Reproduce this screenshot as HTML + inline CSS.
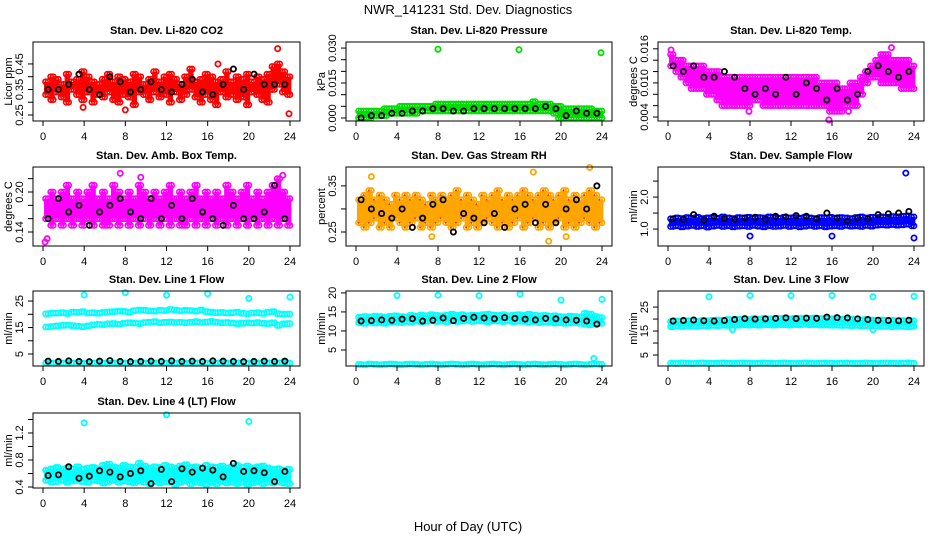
<!DOCTYPE html>
<html><head><meta charset="utf-8"><title>NWR_141231 Std. Dev. Diagnostics</title>
<style>
html,body{margin:0;padding:0;background:#fff;}
svg{display:block;font-family:"Liberation Sans",sans-serif;}
</style></head>
<body>
<svg id="chart" width="936" height="540" viewBox="0 0 936 540" xmlns="http://www.w3.org/2000/svg">
<rect x="0" y="0" width="936" height="540" fill="#fff"/>
<text x="468" y="14" text-anchor="middle" font-size="13">NWR_141231  Std. Dev. Diagnostics</text>
<text x="468" y="531" text-anchor="middle" font-size="13">Hour of Day (UTC)</text>
</svg>
<script>
// ---------- data ----------
const xTicks = [0,4,8,12,16,20,24];
// CO2
const co2Hi = [0.38,0.40,0.39,0.37,0.41,0.38,0.39,0.42,0.40,0.38,0.37,0.39,0.41,0.38,0.40,0.39,0.38,0.41,0.40,0.37,0.39,0.42,0.38,0.40,0.41,0.39,0.37,0.40,0.43,0.38,0.39,0.41,0.40,0.38,0.39,0.42,0.38,0.40,0.39,0.41,0.38,0.40,0.39,0.41,0.44,0.45,0.42,0.40];
const co2Lo = [0.33,0.31,0.34,0.32,0.30,0.35,0.33,0.31,0.34,0.30,0.33,0.32,0.34,0.31,0.30,0.33,0.32,0.29,0.34,0.33,0.31,0.34,0.32,0.33,0.30,0.34,0.31,0.33,0.35,0.32,0.30,0.33,0.31,0.29,0.34,0.32,0.33,0.31,0.32,0.29,0.34,0.33,0.31,0.30,0.35,0.37,0.34,0.33];
const co2Black = [0.35,0.35,0.37,0.41,0.35,0.33,0.40,0.38,0.34,0.35,0.38,0.35,0.34,0.37,0.39,0.34,0.33,0.37,0.43,0.35,0.41,0.37,0.37,0.37];
const co2OutT = [3.9,8,17,22.8,23.9];
const co2OutV = [0.28,0.27,0.45,0.51,0.255];
// Pressure
const presHi = [0.003,0.003,0.003,0.003,0.003,0.004,0.004,0.004,0.005,0.005,0.005,0.005,0.005,0.005,0.005,0.006,0.006,0.006,0.006,0.006,0.006,0.006,0.006,0.006,0.006,0.006,0.006,0.006,0.006,0.006,0.006,0.006,0.006,0.006,0.007,0.006,0.006,0.006,0.005,0.005,0.004,0.004,0.004,0.004,0.004,0.004,0.003,0.003];
const presLo = [0.000,0.000,0.000,0.001,0.001,0.001,0.002,0.002,0.002,0.002,0.002,0.002,0.003,0.003,0.003,0.003,0.003,0.003,0.003,0.003,0.003,0.003,0.003,0.003,0.003,0.003,0.003,0.003,0.003,0.003,0.003,0.003,0.003,0.003,0.003,0.003,0.003,0.003,0.002,0.000,0.000,0.000,0.000,0.000,0.000,0.000,0.000,0.000];
const presBlack = [0.000,0.001,0.001,0.002,0.002,0.003,0.003,0.004,0.004,0.003,0.003,0.004,0.004,0.004,0.004,0.004,0.004,0.004,0.005,0.004,0.001,0.003,0.002,0.002];
const presOutT = [8,15.9,23.9];
const presOutV = [0.0295,0.0293,0.028];
// Li-820 temp
const tempHi = [0.015,0.014,0.014,0.013,0.013,0.013,0.013,0.012,0.012,0.012,0.011,0.011,0.011,0.011,0.011,0.011,0.011,0.011,0.011,0.011,0.011,0.011,0.011,0.011,0.011,0.011,0.011,0.011,0.011,0.010,0.010,0.010,0.010,0.009,0.009,0.010,0.010,0.011,0.012,0.013,0.014,0.015,0.015,0.014,0.014,0.014,0.014,0.013];
const tempLo = [0.013,0.012,0.011,0.010,0.009,0.009,0.009,0.008,0.008,0.007,0.006,0.006,0.006,0.006,0.006,0.006,0.007,0.007,0.006,0.006,0.006,0.006,0.006,0.006,0.006,0.006,0.006,0.006,0.006,0.006,0.006,0.005,0.005,0.005,0.006,0.006,0.006,0.008,0.010,0.011,0.011,0.010,0.010,0.010,0.010,0.009,0.009,0.009];
const tempBlack = [0.013,0.012,0.013,0.011,0.011,0.012,0.011,0.009,0.008,0.009,0.008,0.011,0.008,0.010,0.009,0.007,0.009,0.007,0.008,0.012,0.013,0.012,0.011,0.012];
const tempOutT = [0.3,15.7,21.8,7.9,17.6];
const tempOutV = [0.0158,0.0035,0.0162,0.005,0.005];
// Amb box temp
const ambHi = [0.19,0.20,0.19,0.20,0.21,0.19,0.20,0.19,0.20,0.21,0.19,0.20,0.19,0.21,0.20,0.19,0.20,0.19,0.21,0.20,0.19,0.20,0.19,0.20,0.21,0.19,0.20,0.19,0.20,0.21,0.19,0.20,0.19,0.20,0.19,0.21,0.20,0.19,0.20,0.21,0.19,0.20,0.19,0.20,0.21,0.22,0.20,0.19];
const ambLo = [0.16,0.15,0.16,0.15,0.16,0.15,0.16,0.15,0.16,0.15,0.16,0.15,0.15,0.16,0.15,0.16,0.15,0.16,0.15,0.16,0.15,0.16,0.15,0.16,0.15,0.16,0.15,0.15,0.16,0.15,0.16,0.15,0.16,0.15,0.16,0.15,0.16,0.15,0.16,0.15,0.16,0.15,0.16,0.15,0.16,0.15,0.16,0.15];
const ambBlack = [0.16,0.19,0.17,0.18,0.15,0.17,0.18,0.19,0.17,0.16,0.19,0.16,0.18,0.16,0.19,0.17,0.16,0.15,0.18,0.16,0.16,0.17,0.21,0.16];
const ambOutT = [0.2,0.4,7.5,9.5,23.3];
const ambOutV = [0.125,0.13,0.228,0.222,0.225];
// Gas stream RH
const rhHi = [0.32,0.33,0.34,0.32,0.33,0.32,0.31,0.33,0.32,0.33,0.32,0.33,0.32,0.31,0.33,0.32,0.33,0.32,0.33,0.34,0.32,0.33,0.32,0.31,0.33,0.32,0.33,0.34,0.32,0.33,0.32,0.33,0.34,0.33,0.32,0.33,0.34,0.33,0.32,0.33,0.34,0.32,0.33,0.32,0.33,0.34,0.33,0.32];
const rhLo = [0.27,0.26,0.27,0.28,0.26,0.27,0.26,0.28,0.27,0.26,0.27,0.28,0.26,0.27,0.26,0.27,0.28,0.27,0.26,0.27,0.28,0.26,0.27,0.26,0.27,0.28,0.27,0.26,0.27,0.26,0.27,0.28,0.26,0.27,0.28,0.26,0.27,0.26,0.27,0.28,0.26,0.27,0.26,0.27,0.28,0.27,0.26,0.27];
const rhBlack = [0.32,0.30,0.29,0.28,0.30,0.26,0.28,0.31,0.32,0.25,0.29,0.28,0.27,0.29,0.26,0.30,0.31,0.27,0.31,0.27,0.30,0.32,0.30,0.35];
const rhOutT = [1.5,7.4,17.3,22.8,20.5,18.8];
const rhOutV = [0.37,0.24,0.38,0.39,0.24,0.23];
// Sample flow
const flowHi = [1.32,1.35,1.33,1.36,1.34,1.37,1.33,1.35,1.36,1.34,1.38,1.35,1.33,1.36,1.35,1.37,1.34,1.36,1.35,1.38,1.36,1.34,1.37,1.35,1.36,1.34,1.37,1.35,1.33,1.36,1.35,1.37,1.34,1.36,1.35,1.33,1.36,1.38,1.35,1.37,1.36,1.38,1.37,1.39,1.38,1.40,1.41,1.38];
const flowLo = [1.08,1.10,1.07,1.09,1.11,1.08,1.10,1.06,1.09,1.11,1.08,1.10,1.07,1.09,1.10,1.08,1.11,1.09,1.07,1.10,1.08,1.09,1.11,1.08,1.10,1.07,1.09,1.11,1.08,1.10,1.07,1.09,1.10,1.08,1.11,1.09,1.10,1.08,1.11,1.09,1.12,1.13,1.12,1.14,1.12,1.13,1.15,1.10];
const flowBlack = [1.32,1.30,1.45,1.28,1.40,1.33,1.30,1.35,1.37,1.30,1.40,1.38,1.42,1.40,1.32,1.50,1.35,1.25,1.35,1.32,1.45,1.48,1.50,1.55];
const flowOutT = [8,16,23.2,24];
const flowOutV = [0.78,0.78,2.75,0.72];
// Line 1 flow
const l1Up = [20.2,20.4,20.5,20.6,20.3,20.8,20.7,21.0,20.5,20.6,20.4,20.7,20.9,21.0,21.2,21.1,20.8,21.4,21.6,21.5,21.3,21.2,21.5,21.4,21.8,21.6,21.3,21.5,21.4,21.2,21.6,21.0,20.8,20.6,20.7,20.5,20.6,20.8,20.4,20.2,20.5,20.6,20.3,20.8,21.0,20.2,20.0,20.1];
const l1Mid = [15.2,15.4,15.6,15.8,15.9,15.7,15.5,15.3,15.6,16.0,16.2,16.1,16.4,16.5,16.3,16.6,16.8,16.7,16.5,16.9,17.0,17.2,16.8,17.0,17.1,16.9,17.0,16.8,17.0,17.2,16.9,17.1,17.3,17.0,16.8,16.9,16.7,16.5,16.6,16.8,16.7,16.9,16.6,16.5,16.8,15.8,16.4,16.5];
const l1Low = [1.6,1.5,1.7,1.6,1.5,1.6,1.7,1.6,1.5,1.6,1.7,1.6,1.5,1.6,1.7,1.6,1.5,1.6,1.7,1.6,1.5,1.6,1.7,1.6,1.5,1.6,1.7,1.6,1.5,1.6,1.7,1.6,1.5,1.6,1.7,1.6,1.5,1.6,1.7,1.6,1.5,1.6,1.7,1.6,1.5,1.6,1.7,1.6];
const l1Black = [2.3,2.2,2.4,2.2,2.1,2.3,2.5,2.2,2.1,2.2,2.3,2.2,2.4,2.2,2.3,2.2,2.4,2.3,2.2,2.1,2.2,2.3,2.2,2.3];
const l1OutT = [4,8,12,16,20,24];
const l1OutV = [27.3,28.2,27.2,27.8,26.0,26.5];
// Line 2 flow
const l2Hi = [13.6,13.8,13.7,13.9,13.8,13.6,13.9,14.0,13.8,13.7,14.1,13.9,14.2,14.0,14.3,14.1,14.0,14.2,14.4,14.1,14.3,14.0,14.2,14.1,14.3,14.4,14.2,14.1,14.3,14.0,14.2,14.3,14.1,14.4,14.2,14.0,14.1,13.9,14.0,13.8,13.7,13.9,13.8,13.7,14.6,14.4,13.8,13.5];
const l2Lo = [12.2,12.0,12.3,12.1,12.2,12.0,12.3,12.4,12.2,12.5,12.3,12.6,12.4,12.5,12.7,12.5,12.6,12.4,12.7,12.5,12.6,12.8,12.5,12.7,12.6,12.4,12.7,12.6,12.5,12.7,12.4,12.6,12.5,12.3,12.5,12.2,12.4,12.3,12.1,12.2,12.0,12.1,12.2,12.0,11.8,11.6,11.9,12.0];
const l2Low = [1.2,1.1,1.3,1.2,1.1,1.2,1.3,1.2,1.1,1.2,1.3,1.2,1.1,1.2,1.3,1.2,1.1,1.2,1.3,1.2,1.1,1.2,1.3,1.2,1.1,1.2,1.3,1.2,1.1,1.2,1.3,1.2,1.1,1.2,1.3,1.2,1.1,1.2,1.3,1.2,1.1,1.2,1.3,1.2,1.1,1.2,1.3,1.2];
const l2Black = [12.6,12.7,12.9,12.8,13.1,13.2,12.6,12.8,13.4,12.7,13.3,13.6,13.4,13.2,13.5,13.3,13.1,12.9,13.3,13.2,12.9,12.8,12.6,11.8];
const l2OutT = [4,8,12,16,20,24,23.2];
const l2OutV = [19.3,19.4,19.3,19.7,18.1,18.3,2.8];
// Line 3 flow
const l3Hi = [19.0,19.2,19.1,19.3,19.2,19.0,19.4,19.3,19.5,19.6,19.4,19.8,19.7,19.9,20.0,19.8,20.1,20.0,20.2,20.1,20.0,20.3,20.2,20.1,20.3,20.4,20.2,20.3,20.5,20.2,20.3,20.1,20.2,20.0,19.9,20.0,19.8,19.7,19.8,19.6,19.5,19.6,19.4,19.5,19.3,19.4,19.2,19.3];
const l3Lo = [16.8,17.0,16.9,17.1,17.0,16.9,17.2,17.1,17.3,17.2,17.4,17.3,17.5,17.4,17.6,17.5,17.6,17.4,17.7,17.6,17.5,17.7,17.6,17.5,17.7,17.6,17.8,17.6,17.7,17.5,17.6,17.4,17.5,17.3,17.4,17.2,17.3,17.1,17.2,17.0,17.1,16.9,17.0,16.8,17.0,16.9,16.8,16.9];
const l3Low = [1.6,1.5,1.7,1.6,1.5,1.6,1.7,1.6,1.5,1.6,1.7,1.6,1.5,1.6,1.7,1.6,1.5,1.6,1.7,1.6,1.5,1.6,1.7,1.6,1.5,1.6,1.7,1.6,1.5,1.6,1.7,1.6,1.5,1.6,1.7,1.6,1.5,1.6,1.7,1.6,1.5,1.6,1.7,1.6,1.5,1.6,1.7,1.6];
const l3Black = [19.2,19.4,19.6,19.3,19.2,19.4,19.8,20.2,20.0,20.1,20.3,20.5,20.2,20.4,20.3,20.8,20.6,20.5,20.1,19.8,19.5,19.4,19.3,19.5];
const l3OutT = [4,8,12,16,20,24,6.3,20];
const l3OutV = [29.3,29.8,29.8,29.8,29.3,29.5,15.6,15.6];
// Line 4 (LT) flow
const l4Hi = [0.65,0.67,0.69,0.66,0.68,0.67,0.70,0.66,0.68,0.69,0.67,0.72,0.74,0.70,0.68,0.72,0.70,0.69,0.75,0.71,0.68,0.70,0.69,0.72,0.70,0.68,0.71,0.73,0.69,0.70,0.68,0.72,0.70,0.69,0.71,0.68,0.70,0.72,0.69,0.71,0.68,0.70,0.71,0.68,0.66,0.67,0.65,0.66];
const l4Lo = [0.50,0.47,0.48,0.50,0.47,0.49,0.50,0.48,0.47,0.50,0.49,0.46,0.48,0.50,0.47,0.49,0.48,0.46,0.49,0.47,0.45,0.48,0.46,0.48,0.47,0.44,0.47,0.49,0.45,0.47,0.46,0.44,0.47,0.45,0.48,0.46,0.47,0.45,0.47,0.44,0.46,0.48,0.45,0.47,0.46,0.48,0.46,0.45];
const l4Black = [0.57,0.58,0.70,0.53,0.56,0.64,0.62,0.55,0.60,0.64,0.45,0.66,0.48,0.67,0.62,0.68,0.65,0.55,0.75,0.63,0.64,0.61,0.48,0.63];
const l4OutT = [4,12,20];
const l4OutV = [1.35,1.47,1.37];

// ---------- layout ----------
const NS = "http://www.w3.org/2000/svg";
const svg = document.getElementById('chart');
const cols = [{x0:33,x1:300},{x0:346,x1:612},{x0:658,x1:924}];
const rows = [{y0:42,y1:121},{y0:167,y1:246},{y0:291,y1:366},{y0:413,y1:488}];
const halfHours = []; for (let i=0;i<48;i++) halfHours.push(i*0.5+0.25);
const hours = []; for (let i=0;i<24;i++) hours.push(i+0.5);

const panels = [
 {name:'co2',title:'Stan. Dev. Li-820 CO2',ylab:'Licor ppm',c:0,r:0,lo:0.2265,hi:0.536,ticks:[0.25,0.30,0.35,0.40,0.45],labels:['0.25','','0.35','','0.45'],color:'#ff0000',fill:true,bands:[co2Hi,co2Lo],black:co2Black,outT:co2OutT,outV:co2OutV},
 {name:'pressure',title:'Stan. Dev. Li-820 Pressure',ylab:'kPa',c:1,r:0,lo:-0.0013,hi:0.0326,ticks:[0,0.005,0.010,0.015,0.020,0.025,0.030],labels:['0.000','','','0.015','','','0.030'],color:'#00dd00',fill:true,bands:[presHi,presLo],black:presBlack,outT:presOutT,outV:presOutV},
 {name:'li820-temp',title:'Stan. Dev. Li-820 Temp.',ylab:'degrees C',c:2,r:0,lo:0.0033,hi:0.0172,ticks:[0.004,0.006,0.008,0.010,0.012,0.014,0.016],labels:['0.004','','','0.010','','','0.016'],color:'#ff00ff',fill:true,bands:[tempHi,tempLo],black:tempBlack,outT:tempOutT,outV:tempOutV},
 {name:'amb-box-temp',title:'Stan. Dev. Amb. Box Temp.',ylab:'degrees C',c:0,r:1,lo:0.119,hi:0.2375,ticks:[0.14,0.16,0.18,0.20,0.22],labels:['0.14','','','0.20',''],color:'#ff00ff',fill:true,bands:[ambHi,ambLo],black:ambBlack,outT:ambOutT,outV:ambOutV},
 {name:'gas-stream-rh',title:'Stan. Dev. Gas Stream RH',ylab:'percent',c:1,r:1,lo:0.2196,hi:0.391,ticks:[0.25,0.30,0.35],labels:['0.25','','0.35'],color:'#ffa500',fill:true,bands:[rhHi,rhLo],black:rhBlack,outT:rhOutT,outV:rhOutV},
 {name:'sample-flow',title:'Stan. Dev. Sample Flow',ylab:'ml/min',c:2,r:1,lo:0.47,hi:2.94,ticks:[1.0,1.5,2.0,2.5],labels:['1.0','','2.0',''],color:'#0000ff',fill:true,bands:[flowHi,flowLo],black:flowBlack,outT:flowOutT,outV:flowOutV},
 {name:'line1-flow',title:'Stan. Dev. Line 1 Flow',ylab:'ml/min',c:0,r:2,lo:0.47,hi:28.8,ticks:[5,10,15,20,25],labels:['5','','15','','25'],color:'#00ffff',fill:false,bands:[l1Up,l1Mid,l1Low],black:l1Black,outT:l1OutT,outV:l1OutV},
 {name:'line2-flow',title:'Stan. Dev. Line 2 Flow',ylab:'ml/min',c:1,r:2,lo:0.79,hi:20.5,ticks:[5,10,15,20],labels:['5','10','15','20'],color:'#00ffff',fill:true,bands:[l2Hi,l2Lo],extra:l2Low,black:l2Black,outT:l2OutT,outV:l2OutV},
 {name:'line3-flow',title:'Stan. Dev. Line 3 Flow',ylab:'ml/min',c:2,r:2,lo:0.42,hi:31.7,ticks:[5,10,15,20,25],labels:['5','','15','','25'],color:'#00ffff',fill:true,bands:[l3Hi,l3Lo],extra:l3Low,black:l3Black,outT:l3OutT,outV:l3OutV},
 {name:'line4-flow',title:'Stan. Dev. Line 4 (LT) Flow',ylab:'ml/min',c:0,r:3,lo:0.385,hi:1.496,ticks:[0.4,0.6,0.8,1.0,1.2,1.4],labels:['0.4','','0.8','','1.2',''],color:'#00ffff',fill:true,bands:[l4Hi,l4Lo],black:l4Black,outT:l4OutT,outV:l4OutV}
];

function mk(tag, attrs, parent){
  const e = document.createElementNS(NS, tag);
  for (const k in attrs) e.setAttribute(k, attrs[k]);
  parent.appendChild(e);
  return e;
}

panels.forEach(p => {
  const {x0,x1} = cols[p.c];
  const {y0,y1} = rows[p.r];
  const xs = t => x0 + 10 + t/24*(x1-x0-20);
  const ys = v => y1 - (v-p.lo)/(p.hi-p.lo)*(y1-y0);
  const g = mk('g', {}, svg);
  
  

  const title = mk('text', {x:(x0+x1)/2, y:y0-8, 'text-anchor':'middle','font-size':11,'font-weight':'bold'}, g);
  title.textContent = p.title;
  
  

  const yl = mk('text', {x:0,y:0,'text-anchor':'middle','font-size':11,transform:`translate(${x0-21},${(y0+y1)/2}) rotate(-90)`}, g);
  yl.textContent = p.ylab;
  
  

  const marks = mk('g', {}, g);
  
  

  if (p.fill) {
    halfHours.forEach((t,i) => {
      const ln = mk('line', {x1:xs(t)+1.2, x2:xs(t)+1.2, y1:ys(p.bands[0][i]), y2:ys(p.bands[1][i]), stroke:p.color, 'stroke-width':5.5}, marks);
      
      
    });
  }
  const colorSeries = p.bands.slice();
  if (p.extra) colorSeries.push(p.extra);
  colorSeries.forEach(arr => {
    halfHours.forEach((t,i) => {
      const c = mk('circle', {cx:xs(t), cy:ys(arr[i]), r:2.6, fill:'none', stroke:p.color, 'stroke-width':1.6}, marks);
      
      
      const c2 = mk('circle', {cx:xs(t)+2.5, cy:ys(arr[i]), r:2.6, fill:'none', stroke:p.color, 'stroke-width':1.6}, marks);
      
      
    });
  });
  if (p.name === 'gas-stream-rh') {
    halfHours.forEach((t,i) => {
      [p.bands[0][i], p.bands[1][i]].forEach(v => {
        const d = mk('circle', {cx:xs(t), cy:ys(v), r:0.9, fill:'#ff2000'}, marks);
        
        
      });
    });
  }
  p.outT.forEach((t,i) => {
    const c = mk('circle', {cx:xs(t), cy:ys(p.outV[i]), r:2.6, fill:'none', stroke:p.color, 'stroke-width':1.8}, marks);
    
    
  });
  p.black.forEach((v,i) => {
    const c = mk('circle', {cx:xs(hours[i]), cy:ys(v), r:2.6, fill:'none', stroke:'#000', 'stroke-width':1.8}, marks);
    
    
  });

  const box = mk('rect', {x:x0, y:y0, width:x1-x0, height:y1-y0, fill:'none', stroke:'#000', 'stroke-width':1}, g);
  
  

  const xa = mk('g', {}, g);
  
  
  xTicks.forEach(t => {
    const tk = mk('line', {x1:xs(t), x2:xs(t), y1:y1, y2:y1+5, stroke:'#000'}, xa);
    
    
    const tl = mk('text', {x:xs(t), y:y1+19, 'text-anchor':'middle','font-size':11}, xa);
    tl.textContent = String(t);
    
    
  });
  const ya = mk('g', {}, g);
  
  
  p.ticks.forEach((v,i) => {
    const tk = mk('line', {x1:x0-5, x2:x0, y1:ys(v), y2:ys(v), stroke:'#000'}, ya);
    
    
    if (p.labels[i]) {
      const tl = mk('text', {x:0, y:0, 'text-anchor':'middle','font-size':11, transform:`translate(${x0-10},${ys(v)}) rotate(-90)`}, ya);
      tl.textContent = p.labels[i];
      
      
    }
  });
});
</script>
</body></html>
